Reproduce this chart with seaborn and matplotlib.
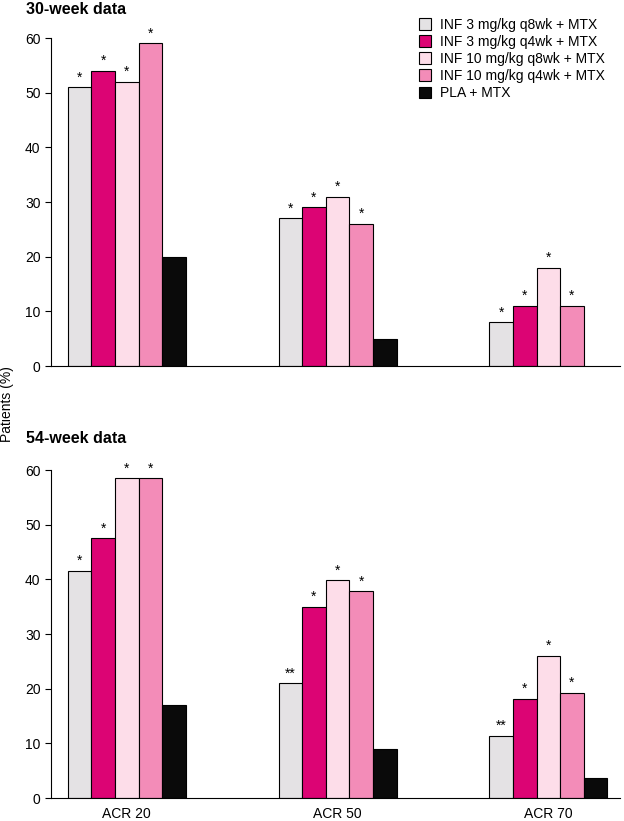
import pandas as pd
import matplotlib
matplotlib.use('Agg')
import matplotlib.pyplot as plt
import seaborn as sns

measures = ['ACR 20', 'ACR 50', 'ACR 70']
groups = ['INF 3 mg/kg q8wk + MTX', 'INF 3 mg/kg q4wk + MTX',
          'INF 10 mg/kg q8wk + MTX', 'INF 10 mg/kg q4wk + MTX', 'PLA + MTX']
colors = ['#E4E2E4', '#DC0474', '#FDDDE9', '#F38CB8', '#0A0A0A']

# values per group, one entry per ACR measure (None = no bar)
week30 = [[51, 27, 8], [54, 29, 11], [52, 31, 18], [59, 26, 11], [20, 5, None]]
week54 = [[41.6, 21, 11.4], [47.5, 35, 18.2], [58.5, 39.8, 26], [58.5, 37.8, 19.3], [17, 9, 3.7]]
stars30 = [['*', '*', '*'], ['*', '*', '*'], ['*', '*', '*'], ['*', '*', '*'], ['', '', '']]
stars54 = [['*', '**', '**'], ['*', '*', '*'], ['*', '*', '*'], ['*', '*', '*'], ['', '', '']]

plt.rcParams['font.family'] = ['Liberation Sans', 'DejaVu Sans']


def to_frame(values):
    rows = []
    for g, vals in zip(groups, values):
        for m, v in zip(measures, vals):
            if v is not None:
                rows.append({'measure': m, 'group': g, 'value': v})
    return pd.DataFrame(rows)


def draw_panel(ax, values, stars, show_xlabels):
    df = to_frame(values)
    sns.barplot(data=df, x='measure', y='value', hue='group', order=measures,
                hue_order=groups, palette=colors, width=0.56, gap=0,
                edgecolor='black', linewidth=0.8, saturation=1, ax=ax)
    for gi, cont in enumerate(ax.containers):
        for bar in cont:
            mi = int(round(bar.get_x() + bar.get_width() / 2))
            s = stars[gi][mi]
            if s:
                ax.annotate(s, (bar.get_x() + bar.get_width() / 2, bar.get_height()),
                            xytext=(0, 2), textcoords='offset points',
                            ha='center', va='bottom', fontsize=10, annotation_clip=False)
    ax.set_ylim(0, 60)
    ax.set_xlim(-0.36, 2.34)
    ax.set_yticks(range(0, 61, 10))
    ax.set_xlabel('')
    ax.set_ylabel('')
    sns.despine(ax=ax)
    ax.spines['left'].set_linewidth(0.8)
    ax.spines['bottom'].set_linewidth(0.8)
    ax.tick_params(axis='y', labelsize=10, length=4, width=0.8)
    ax.tick_params(axis='x', length=0, labelsize=10, pad=6.5)
    if not show_xlabels:
        ax.set_xticklabels([])


fig = plt.figure(figsize=(6.24, 8.21), dpi=100)
ax1 = fig.add_axes([0.0817, 0.5542, 0.9119, 0.3995])
ax2 = fig.add_axes([0.0817, 0.0280, 0.9119, 0.3995])

draw_panel(ax1, week30, stars30, False)
draw_panel(ax2, week54, stars54, True)

handles, labels = ax1.get_legend_handles_labels()
ax1.legend_.remove()
ax2.legend_.remove()
fig.legend(handles, labels, loc='upper left', bbox_to_anchor=(0.662, 0.985),
           frameon=False, fontsize=10, handlelength=0.9, handleheight=0.9,
           handletextpad=0.65, labelspacing=0.22, borderaxespad=0)

fig.text(0.042, 0.997, '30-week data', fontsize=11.5, fontweight='bold', va='top')
fig.text(0.042, 0.475, '54-week data', fontsize=11.5, fontweight='bold', va='top')
fig.text(0.011, 0.508, 'Patients (%)', fontsize=10, rotation=90, ha='center', va='center')

fig.savefig('out.png', dpi=100)
